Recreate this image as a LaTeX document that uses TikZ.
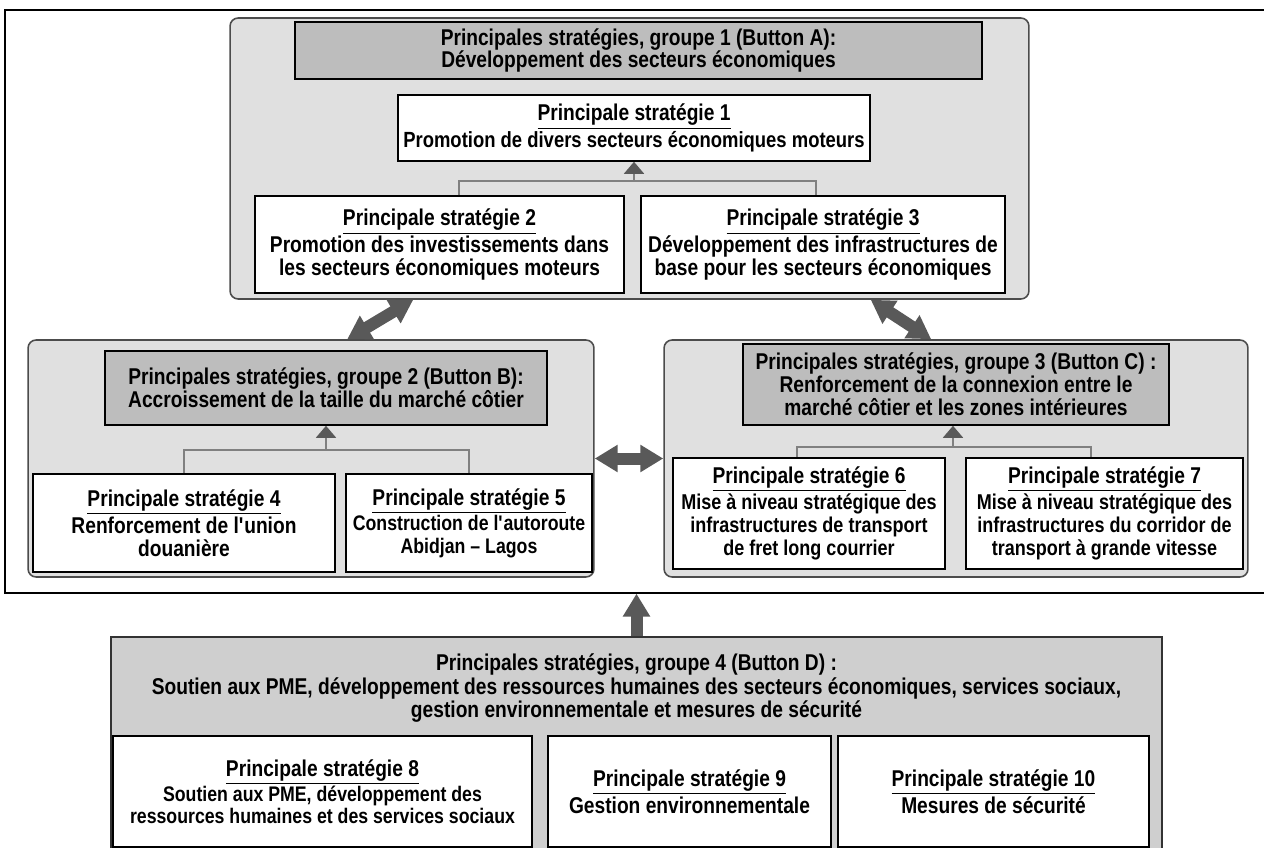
\documentclass[tikz,border=0pt]{standalone}
\usepackage{fontspec}
\setmainfont{Liberation Sans}[FakeStretch=0.84]
\usetikzlibrary{arrows.meta}

\newcommand{\stitle}[1]{{\fontsize{13}{13}\selectfont\underline{#1}}}

\begin{document}
\begin{tikzpicture}[x=0.02cm, y=-0.02cm,
  font=\fontsize{13}{13}\selectfont\bfseries,
  >={Triangle[length=0.24cm,width=0.4cm,color=black!65,fill=black!65]},
  big/.tip={Triangle[length=0.46cm,width=0.52cm]},
  grp/.style={draw=black!70, line width=0.9pt, fill=black!12, rounded corners=0.16cm},
  head/.style={draw, line width=0.9pt, fill=black!26, align=center, inner sep=0pt},
  strat/.style={draw, line width=0.9pt, fill=white, align=center, inner sep=0pt},
  small/.style={font=\fontsize{12.2}{13.2}\selectfont\bfseries},
  link/.style={draw=black!50, line width=1pt},
  fat/.style={draw=black!65, line width=0.24cm},
]
  \useasboundingbox (0,0) rectangle (1264,848);

  % outer frame (groups 1 to 3)
  \node[draw, line width=0.8pt, minimum width=25.3cm, minimum height=11.66cm] (frame) at (637.5,301.5) {};

  % group 1
  \node[grp, minimum width=15.98cm, minimum height=5.62cm] (g1) at (629.5,158.5) {};
  \node[head, minimum width=13.74cm, minimum height=1.14cm] (h1) at (638.5,50.5)
       {Principales stratégies, groupe 1 (Button A):\\Développement des secteurs économiques};
  \node[strat, minimum width=9.44cm, minimum height=1.32cm, font=\fontsize{12.5}{13}\selectfont\bfseries] (b1) at (634,128)
       {\stitle{Principale stratégie 1}\\Promotion de divers secteurs économiques moteurs};
  \node[strat, minimum width=7.38cm, minimum height=1.94cm] (b2) at (439.5,244.5)
       {\stitle{Principale stratégie 2}\\Promotion des investissements dans\\les secteurs économiques moteurs};
  \node[strat, minimum width=7.28cm, minimum height=1.94cm] (b3) at (823,244.5)
       {\stitle{Principale stratégie 3}\\Développement des infrastructures de\\base pour les secteurs économiques};
  \coordinate (j1) at (634,181);
  \draw[link, ->] (j1) -- (b1);
  \draw[link] ([xshift=0.39cm]b2.north) |- (j1) -| ([xshift=-0.14cm]b3.north);

  % group 2
  \node[grp, minimum width=11.32cm, minimum height=4.74cm] (g2) at (311,458.5) {};
  \node[head, minimum width=8.84cm, minimum height=1.48cm] (h2) at (326,388)
       {Principales stratégies, groupe 2 (Button B):\\Accroissement de la taille du marché côtier};
  \node[strat, minimum width=6.04cm, minimum height=1.96cm] (b4) at (184,523)
       {\stitle{Principale stratégie 4}\\Renforcement de l\textquotesingle union\\douanière};
  \node[strat, minimum width=4.92cm, minimum height=1.96cm, font=\fontsize{12}{13}\selectfont\bfseries] (b5) at (469,523)
       {\stitle{Principale stratégie 5}\\Construction de l\textquotesingle autoroute\\Abidjan -- Lagos};
  \coordinate (j2) at (326,450);
  \draw[link, ->] (j2) -- (h2);
  \draw[link] (b4.north) |- (j2) -| (b5.north);

  % group 3
  \node[grp, minimum width=11.68cm, minimum height=4.74cm] (g3) at (956,458.5) {};
  \node[head, minimum width=8.52cm, minimum height=1.62cm] (h3) at (956,384.5)
       {Principales stratégies, groupe 3 (Button C) :\\Renforcement de la connexion entre le\\marché côtier et les zones intérieures};
  \node[strat, small, minimum width=5.44cm, minimum height=2.22cm] (b6) at (809,513.5)
       {\stitle{Principale stratégie 6}\\Mise à niveau stratégique des\\infrastructures de transport\\de fret long courrier};
  \node[strat, small, minimum width=5.54cm, minimum height=2.22cm] (b7) at (1104.5,513.5)
       {\stitle{Principale stratégie 7}\\Mise à niveau stratégique des\\infrastructures du corridor de\\transport à grande vitesse};
  \coordinate (j3) at (953,447);
  \draw[link, ->] (j3) -- (j3 |- h3.south);
  \draw[link] ([xshift=-0.24cm]b6.north) |- (j3) -| ([xshift=-0.27cm]b7.north);

  % links between groups
  \draw[fat, big-big] ([xshift=6.4cm]g2.north west) -- ([xshift=3.68cm]g1.south west);
  \draw[fat, big-big] ([xshift=-3.18cm]g1.south east) -- ([xshift=5.36cm]g3.north west);
  \draw[fat, big-big] (g2) -- (g3);

  % group 4
  \node[draw=black!80, line width=0.9pt, fill=black!19, minimum width=21.02cm, minimum height=4.3cm] (g4) at (636.5,744.5) {};
  \node[align=center, font=\fontsize{13}{12}\selectfont\bfseries] (h4) at (636.5,688)
       {Principales stratégies, groupe 4 (Button D) :\\Soutien aux PME, développement des ressources humaines des secteurs économiques, services sociaux,\\gestion environnementale et mesures de sécurité};
  \node[strat, minimum width=8.38cm, minimum height=2.22cm, font=\fontsize{12}{12.5}\selectfont\bfseries] (b8) at (322.5,791.5)
       {\stitle{Principale stratégie 8}\\Soutien aux PME, développement des\\ressources humaines et des services sociaux};
  \node[strat, minimum width=5.66cm, minimum height=2.22cm] (b9) at (689.5,791.5)
       {\stitle{Principale stratégie 9}\\Gestion environnementale};
  \node[strat, minimum width=6.22cm, minimum height=2.22cm] (b10) at (993.5,791.5)
       {\stitle{Principale stratégie 10}\\Mesures de sécurité};
  \draw[fat, -big] (g4.north) -- (g4.north |- frame.south);
\end{tikzpicture}
\end{document}
